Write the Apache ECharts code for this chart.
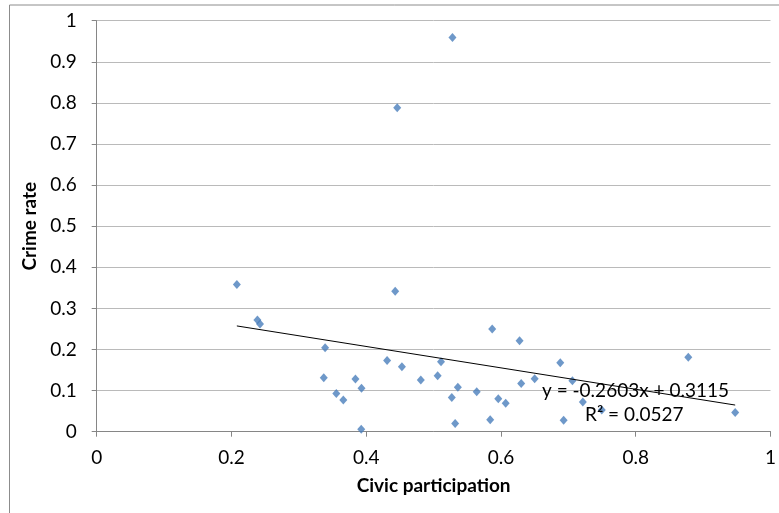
<!DOCTYPE html>
<html>
<head>
<meta charset="utf-8">
<script src="https://cdn.jsdelivr.net/npm/echarts@6/dist/echarts.min.js"></script>
<style>
html,body{margin:0;padding:0;background:#fff;}
#chart{width:779px;height:513px;}
</style>
</head>
<body>
<div id="chart"></div>
<script>
// Civic participation (x) values
var civic = [0.208,0.2385,0.2424,0.339,0.337,0.3556,0.366,0.384,0.393,0.3926,0.431,0.443,0.446,0.453,0.481,0.506,0.511,0.527,0.528,0.532,0.536,0.564,0.584,0.587,0.596,0.607,0.6276,0.630,0.650,0.688,0.693,0.706,0.7215,0.7496,0.878,0.9476];
// Crime rate (y) values
var crime = [0.358,0.272,0.262,0.204,0.131,0.093,0.077,0.128,0.106,0.006,0.173,0.342,0.788,0.158,0.126,0.136,0.170,0.083,0.959,0.020,0.108,0.097,0.029,0.250,0.080,0.069,0.221,0.117,0.129,0.168,0.028,0.124,0.072,0.053,0.181,0.047];
// Trendline as shown on the chart
var slope = -0.2603;
var intercept = 0.3115;
var equationText = 'y = -0.2603x + 0.3115';
var r2Text = 'R² = 0.0527';

var points = civic.map(function(x,i){return [x, crime[i]];});
var xMin = Math.min.apply(null, civic), xMax = Math.max.apply(null, civic);
var trend = [[xMin, slope*xMin+intercept],[xMax, slope*xMax+intercept]];

var FONT = 'Lato, "Open Sans", sans-serif';
var chart = echarts.init(document.getElementById('chart'), null, {renderer:'canvas'});
chart.setOption({
  animation:false,
  backgroundColor:'#fff',
  grid:{left:96.7, right:7.3, top:20.7, bottom:81.3, containLabel:false},
  xAxis:{
    type:'value', min:0, max:1, interval:0.2,
    name:'Civic participation', nameLocation:'middle', nameGap:45,
    nameTextStyle:{fontFamily:FONT, fontWeight:'bold', fontSize:19, color:'#000'},
    axisLine:{lineStyle:{color:'#868686', width:1}},
    axisTick:{show:true, inside:false, length:5, lineStyle:{color:'#868686'}},
    axisLabel:{fontFamily:FONT, fontSize:19, color:'#000', margin:17},
    splitLine:{show:false}
  },
  yAxis:{
    type:'value', min:0, max:1, interval:0.1,
    name:'Crime rate', nameLocation:'middle', nameGap:49,
    nameTextStyle:{fontFamily:FONT, fontWeight:'bold', fontSize:19, color:'#000'},
    axisLine:{show:true, lineStyle:{color:'#868686', width:1}},
    axisTick:{show:true, inside:false, length:5, lineStyle:{color:'#868686'}},
    axisLabel:{fontFamily:FONT, fontSize:19, color:'#000', margin:20},
    splitLine:{show:true, lineStyle:{color:'#bababa', width:1}}
  },
  series:[
    {
      type:'scatter', data:points, symbol:'diamond', symbolSize:[8,9],
      itemStyle:{color:'#4a7ebb'}, z:3
    },
    {
      type:'line', data:trend, symbol:'none', showSymbol:false,
      lineStyle:{color:'#000', width:1}, z:4, silent:true
    }
  ],
  graphic:[
    {type:'rect', left:7, top:2.5, shape:{x:0,y:0,width:900,height:900}, style:{fill:'none', stroke:'#8c8c8c', lineWidth:1}, z:-1},
    {type:'text', left:542, top:381, z:10, style:{text:equationText, font:'19px '+FONT, fill:'#000'}},
    {type:'text', left:585, top:405, z:10, style:{text:r2Text, font:'19px '+FONT, fill:'#000'}}
  ]
});
</script>
</body>
</html>
